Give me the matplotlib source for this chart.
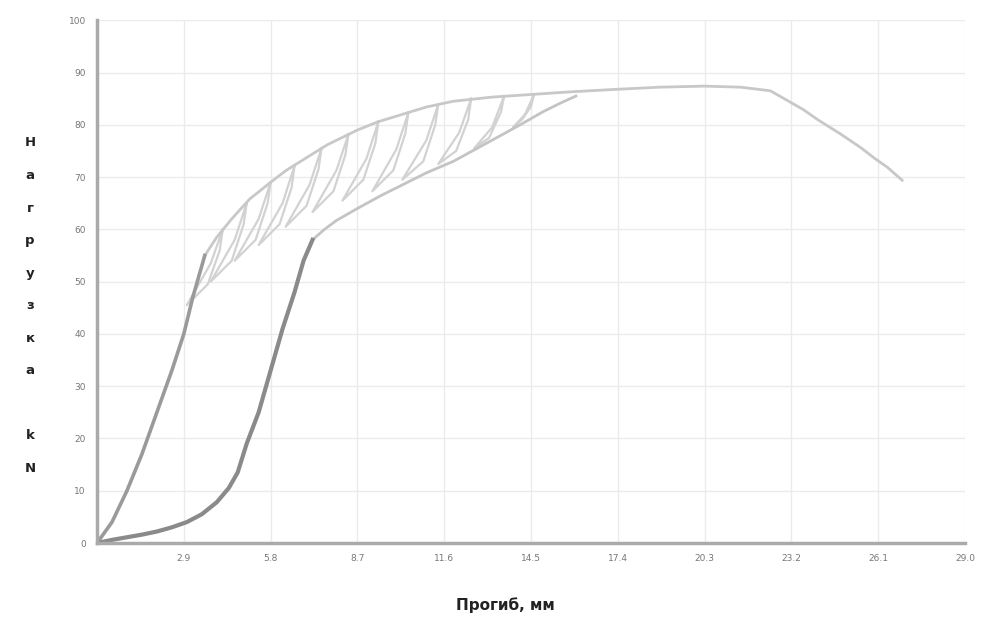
import matplotlib
matplotlib.use("Agg")
import matplotlib.pyplot as plt

# ---- data ----
x_ticks = [2.9, 5.8, 8.7, 11.6, 14.5, 17.4, 20.3, 23.2, 26.1, 29.0]
x_tick_labels = ["2.9", "5.8", "8.7", "11.6", "14.5", "17.4", "20.3", "23.2", "26.1", "29.0"]
y_ticks = [0, 10, 20, 30, 40, 50, 60, 70, 80, 90, 100]

# first (left) loading curve
left_x = [0, 0.5, 1.0, 1.5, 2.0, 2.5, 2.9, 3.2, 3.45, 3.6]
left_y = [0, 4, 10, 17, 25, 33, 40, 47, 52, 55]

# second (right) loading curve
right_x = [0, 0.5, 1.0, 1.5, 2.0, 2.5, 3.0, 3.5, 4.0, 4.4, 4.7, 5.0, 5.4,
           5.8, 6.2, 6.6, 6.9, 7.2]
right_y = [0, 0.6, 1.1, 1.6, 2.2, 3.0, 4.0, 5.5, 7.8, 10.5, 13.5, 19, 25,
           33, 41, 48, 54, 58]

# envelope following the right curve
right_env_x = [7.2, 7.6, 8.0, 8.7, 9.5, 10.2, 11.0, 11.9, 12.7, 13.5, 14.2, 14.9, 15.5, 16.0]
right_env_y = [58, 60, 61.7, 64, 66.5, 68.5, 70.8, 73, 75.5, 78, 80.2, 82.5, 84.2, 85.5]

# upper envelope (rise, peak and descending branch)
env_x = [3.6, 4.0, 4.5, 5.1, 5.8, 6.3, 6.8, 7.7, 8.7, 9.4, 10.2, 11.0, 11.9,
         13.2, 14.5, 15.8, 17.4, 18.8, 20.3, 21.5, 22.5, 23.05, 23.6, 24.1,
         24.8, 25.5, 26.0, 26.4, 26.9]
env_y = [55, 58.5, 62, 65.8, 69, 71.2, 73, 76.2, 79, 80.6, 82, 83.4, 84.5,
         85.3, 85.8, 86.3, 86.8, 87.2, 87.4, 87.2, 86.5, 84.7, 82.9, 80.9,
         78.4, 75.7, 73.5, 71.9, 69.4]

# hysteresis loops (unloading / reloading cycles)
loop1_x = [4.2, 3.8, 3.0, 3.7, 4.1, 4.2]
loop1_y = [60.0, 53.5, 45.5, 49.5, 56.0, 60.0]
loop2_x = [5.0, 4.6, 3.8, 4.5, 4.9, 5.0]
loop2_y = [65, 58, 50, 54, 61, 65]
loop3_x = [5.8, 5.4, 4.6, 5.3, 5.7, 5.8]
loop3_y = [69, 62, 54, 58, 65, 69]
loop4_x = [6.6, 6.2, 5.4, 6.1, 6.5, 6.6]
loop4_y = [72.2, 65, 57, 61, 68, 72.2]
loop5_x = [7.5, 7.1, 6.3, 7.0, 7.4, 7.5]
loop5_y = [75.5, 68.5, 60.5, 64.5, 71.5, 75.5]
loop6_x = [8.4, 8.0, 7.2, 7.9, 8.3, 8.4]
loop6_y = [78.2, 71.3, 63.3, 67.3, 74.3, 78.2]
loop7_x = [9.4, 9.0, 8.2, 8.9, 9.3, 9.4]
loop7_y = [80.6, 73.5, 65.5, 69.5, 76.5, 80.6]
loop8_x = [10.4, 10.0, 9.2, 9.9, 10.3, 10.4]
loop8_y = [82.3, 75.3, 67.3, 71.3, 78.3, 82.3]
loop9_x = [11.4, 11.0, 10.2, 10.9, 11.3, 11.4]
loop9_y = [83.9, 77, 69.5, 73, 80, 83.9]
loop10_x = [12.5, 12.1, 11.4, 12.0, 12.4, 12.5]
loop10_y = [85, 78.5, 72.5, 75, 81, 85]
loop11_x = [13.6, 13.2, 12.6, 13.1, 13.5, 13.6]
loop11_y = [85.5, 79.5, 75.5, 77.5, 82.5, 85.5]
loop12_x = [14.6, 14.3, 13.9, 14.2, 14.5, 14.6]
loop12_y = [85.8, 82, 79.5, 81, 83.5, 85.8]

loops = [(loop1_x, loop1_y), (loop2_x, loop2_y), (loop3_x, loop3_y),
         (loop4_x, loop4_y), (loop5_x, loop5_y), (loop6_x, loop6_y),
         (loop7_x, loop7_y), (loop8_x, loop8_y), (loop9_x, loop9_y),
         (loop10_x, loop10_y), (loop11_x, loop11_y), (loop12_x, loop12_y)]

y_label = "Нагрузка, kN"
x_label = "Прогиб, мм"

# ---- figure ----
fig = plt.figure(figsize=(9.83, 6.43), dpi=100)
ax = fig.add_axes([0.0987, 0.1555, 0.883, 0.813])

ax.set_xlim(0, 29.0)
ax.set_ylim(0, 100)
ax.set_xticks(x_ticks)
ax.set_xticklabels(x_tick_labels)
ax.set_yticks(y_ticks)
ax.tick_params(length=0, labelsize=6.5, labelcolor="#777777", pad=8)
ax.grid(True, color="#ebebeb", linewidth=1.0)
ax.set_axisbelow(True)
for s in ["top", "right"]:
    ax.spines[s].set_visible(False)
for s in ["left", "bottom"]:
    ax.spines[s].set_color("#aaaaaa")
    ax.spines[s].set_linewidth(2.5)

for lx, ly in loops:
    ax.plot(lx, ly, color="#d2d2d2", linewidth=1.6, solid_joinstyle="round")

ax.plot(env_x, env_y, color="#c8c8c8", linewidth=2.0, solid_joinstyle="round")
ax.plot(right_env_x, right_env_y, color="#c4c4c4", linewidth=2.0, solid_joinstyle="round")
ax.plot(left_x, left_y, color="#9a9a9a", linewidth=2.6, solid_joinstyle="round")
ax.plot(right_x, right_y, color="#8a8a8a", linewidth=3.0, solid_joinstyle="round")

# vertical stacked y-label
chars = list(y_label.replace(", ", " "))
ypos = 1 - 143 / 643
for ch in chars:
    if ch != " ":
        fig.text(30 / 983, ypos, ch, ha="center", va="center",
                 fontsize=9.5, fontweight="bold", color="#222222")
    ypos -= 32.5 / 643

fig.text(505 / 983, 1 - 605 / 643, x_label, ha="center", va="center",
         fontsize=11, fontweight="bold", color="#222222")

fig.savefig("out.png", dpi=100, facecolor="white")
